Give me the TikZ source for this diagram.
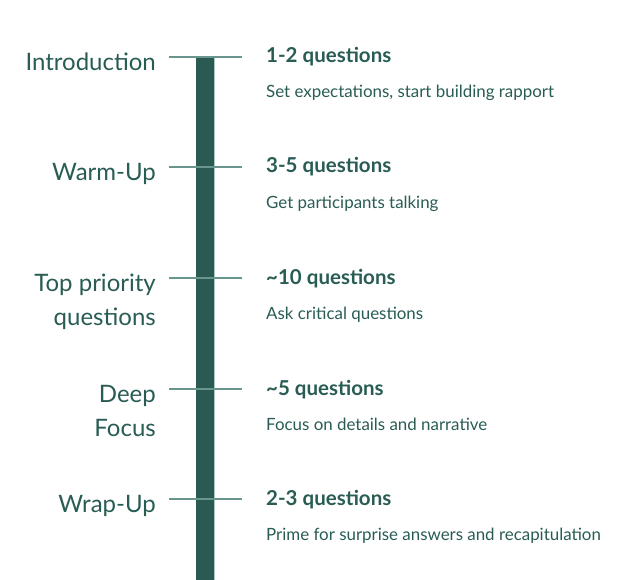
\documentclass[tikz,border=0pt]{standalone}
\usepackage{fontspec}
\setmainfont{Lato}
\definecolor{timelinegreen}{RGB}{42, 90, 82}
\definecolor{tickgreen}{RGB}{104, 150, 142}
\definecolor{edgegreen}{RGB}{170, 200, 194}
\definecolor{labelgreen}{RGB}{40, 92, 84}

\begin{document}
\begin{tikzpicture}[x=1bp, y=-1bp]
  \useasboundingbox (0,0) rectangle (644,580);
  \fill[timelinegreen] (196,57) rectangle (214,580);
  \draw[edgegreen, line width=1bp] (214.5,57) -- (214.5,580);
  \foreach \y/\extra/\stage/\amount/\desc [count=\i] in {
      57/0/Introduction/1-2 questions/{Set expectations, start building rapport},
      167/0/Warm-Up/3-5 questions/Get participants talking,
      278/34/{Top priority\\questions}/\textasciitilde10 questions/Ask critical questions,
      389/34/{Deep\\Focus}/\textasciitilde5 questions/Focus on details and narrative,
      499/0/Wrap-Up/2-3 questions/Prime for surprise answers and recapitulation} {
    \coordinate (tickleft\i) at (169,\y);
    \coordinate (tickright\i) at (242,\y);
    \draw[tickgreen, line width=1.8bp] (tickleft\i) -- (tickright\i);
    \node[anchor=base east, align=right, inner sep=0pt, text=labelgreen,
          font=\fontsize{24bp}{34bp}\selectfont] (stage\i) at (156,\y+13.5+\extra) {\stage};
    \node[anchor=base west, inner sep=0pt, text=labelgreen,
          font=\fontsize{20.5bp}{24bp}\selectfont\bfseries] (amount\i) at (266,\y+6) {\amount};
    \node[anchor=base west, inner sep=0pt, text=labelgreen,
          font=\fontsize{16.9bp}{20bp}\selectfont] (desc\i) at (266,\y+41) {\desc};
  }
\end{tikzpicture}
\end{document}
